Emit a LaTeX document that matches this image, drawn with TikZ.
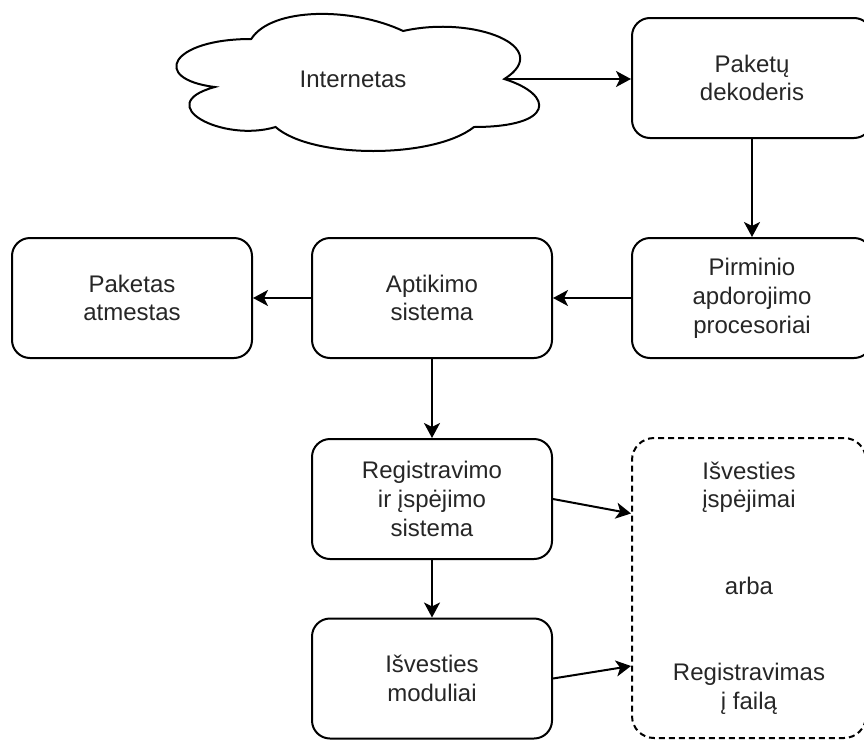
\documentclass[tikz,border=0pt]{standalone}
\usepackage{fontspec}
\setmainfont{Liberation Sans}
\usetikzlibrary{arrows.meta,calc}
\begin{document}
\begin{tikzpicture}[x=1pt,y=-1pt,
  txt/.style={font=\fontsize{24}{28.8}\selectfont, align=center, text=black!85},
  box/.style={txt, draw, line width=2pt, rounded corners=18pt,
    minimum width=240pt, minimum height=120pt, inner sep=0pt, fill=white},
  group/.style={txt, draw, line width=2pt, dash pattern=on 6pt off 4pt,
    rounded corners=22pt, minimum width=234pt, minimum height=300pt, inner sep=0pt},
  arr/.style={-{Stealth[length=15pt,width=16pt,inset=4pt]}, line width=2pt},
]
\useasboundingbox (0,0) rectangle (864,739);
\clip (0,0) rectangle (864,739);

% cloud outline
\begin{scope}[shift={(150,-1)}, x=405pt, y=-160pt]
  \draw[line width=2pt, fill=white]
    (0.25,0.25) .. controls (0.05,0.25) and (0,0.5) .. (0.16,0.55)
    .. controls (0,0.66) and (0.18,0.9) .. (0.31,0.8)
    .. controls (0.4,1) and (0.7,1) .. (0.8,0.8)
    .. controls (1,0.8) and (1,0.6) .. (0.875,0.5)
    .. controls (1,0.3) and (0.8,0.1) .. (0.625,0.2)
    .. controls (0.5,0.05) and (0.3,0.05) .. (0.25,0.25) -- cycle;
  \coordinate (notch) at (0.875,0.5);
\end{scope}
\node[txt] (net) at (353,79) {Internetas};

% process boxes
\node[box] (dec)  at (752,78)    {Paketų\\dekoderis};
\node[box] (pre)  at (752,298)   {Pirminio\\apdorojimo\\procesoriai};
\node[box] (det)  at (432,298)   {Aptikimo\\sistema};
\node[box] (drop) at (132,298)   {Paketas\\atmestas};
\node[box] (log)  at (432,499)   {Registravimo\\ir įspėjimo\\sistema};
\node[box] (out)  at (432,678.5) {Išvesties\\moduliai};

% output group
\node[group] (res) at (749,588)
  {Išvesties\\įspėjimai\\[57.6pt]arba\\[57.6pt]Registravimas\\į failą};

% connectors
\draw[arr] (notch) -- (notch -| dec.west);
\draw[arr] (dec.south) -- (pre.north);
\draw[arr] (pre.west) -- (det.east);
\draw[arr] (det.west) -- (drop.east);
\draw[arr] (det.south) -- (log.north);
\draw[arr] (log.south) -- (out.north);
\draw[arr] (log.east) -- ($(res.west)+(0,-74.5)$);
\draw[arr] (out.east) -- ($(res.west)+(0,78)$);
\end{tikzpicture}
\end{document}
